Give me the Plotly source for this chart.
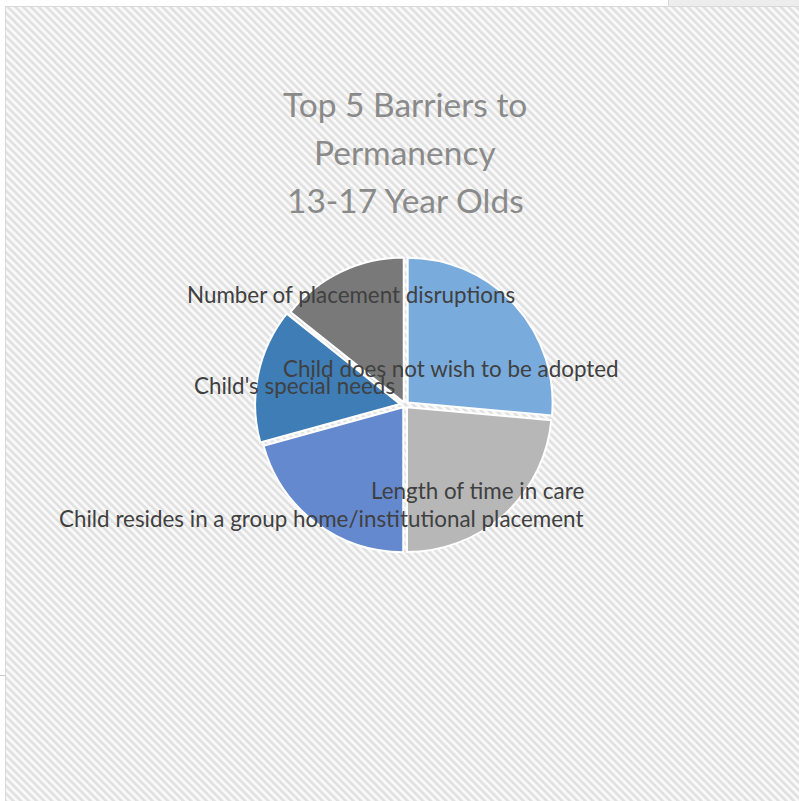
import base64
import plotly.graph_objects as go

# Barrier categories (clockwise from 12 o'clock) and their counts
categories = [
    "Child does not wish to be adopted",
    "Length of time in care",
    "Child resides in a group home/institutional placement",
    "Child's special needs",
    "Number of placement disruptions",
]
counts = [37, 33, 29, 21, 20]
slice_colors = ["#79acdd", "#b7b7b7", "#6589cf", "#3f7db6", "#797979"]

title_lines = ["Top 5 Barriers to", "Permanency", "13-17 Year Olds"]

W, H = 799, 801


def px(x):
    return x / W


def py(y):
    return 1 - y / H


# striped chart-area fill
stripe_svg = (
    "<svg xmlns='http://www.w3.org/2000/svg' width='800' height='800'>"
    "<defs><pattern id='p' width='5.5' height='5.5' patternUnits='userSpaceOnUse' "
    "patternTransform='rotate(-45)'>"
    "<rect width='5.5' height='5.5' fill='#f9f9f9'/>"
    "<rect width='2.6' height='5.5' fill='#e0e0e0'/></pattern></defs>"
    "<rect width='800' height='800' fill='url(#p)'/></svg>"
)
stripe_uri = "data:image/svg+xml;base64," + base64.b64encode(stripe_svg.encode()).decode()

R = 150
fig = go.Figure(
    go.Pie(
        labels=categories,
        values=counts,
        sort=False,
        direction="clockwise",
        rotation=0,
        textinfo="none",
        hoverinfo="label+value+percent",
        pull=[0.025, 0.02, 0.02, 0.035, 0.02],
        marker=dict(colors=slice_colors, line=dict(color="white", width=2)),
        domain=dict(x=[px(405 - R), px(405 + R)], y=[py(405 + R), py(405 - R)]),
        showlegend=False,
    )
)

# data labels, placed like the spreadsheet's default label positions
label_pos = [(451, 368), (478, 490), (321, 518), (294, 385), (351, 294)]
annotations = []
for text, (cx, cy) in zip(categories, label_pos):
    annotations.append(
        dict(
            text=text, x=px(cx), y=py(cy), xref="paper", yref="paper",
            showarrow=False, xanchor="center", yanchor="middle",
            font=dict(family="Lato", size=22.4, color="#404040"),
        )
    )

for line, cy in zip(title_lines, [104, 152, 200]):
    annotations.append(
        dict(
            text=line, x=px(405), y=py(cy), xref="paper", yref="paper",
            showarrow=False, xanchor="center", yanchor="middle",
            font=dict(family="Lato", size=33.5, color="#8a8a8a"),
        )
    )

fig.update_layout(
    width=W, height=H,
    margin=dict(l=0, r=0, t=0, b=0),
    paper_bgcolor="white",
    plot_bgcolor="white",
    annotations=annotations,
    images=[
        dict(source=stripe_uri, xref="paper", yref="paper", x=px(5), y=py(6),
             sizex=px(800) - px(5), sizey=py(6) - py(801), sizing="stretch",
             xanchor="left", yanchor="top", layer="below"),
        dict(source=stripe_uri, xref="paper", yref="paper", x=px(668), y=1,
             sizex=px(800) - px(668), sizey=1 - py(6), sizing="stretch",
             xanchor="left", yanchor="top", layer="below"),
    ],
    shapes=[
        dict(type="line", xref="paper", yref="paper", x0=px(5), x1=1, y0=py(6.5), y1=py(6.5),
             line=dict(color="#d9d9d9", width=1)),
        dict(type="line", xref="paper", yref="paper", x0=px(5.5), x1=px(5.5), y0=py(6), y1=0,
             line=dict(color="#d9d9d9", width=1)),
        dict(type="line", xref="paper", yref="paper", x0=px(668.5), x1=px(668.5), y0=1, y1=py(6),
             line=dict(color="#d9d9d9", width=1)),
        dict(type="line", xref="paper", yref="paper", x0=0, x1=px(5), y0=py(675.5), y1=py(675.5),
             line=dict(color="#c8c8c8", width=1)),
    ],
)

fig.write_html("out.html")
